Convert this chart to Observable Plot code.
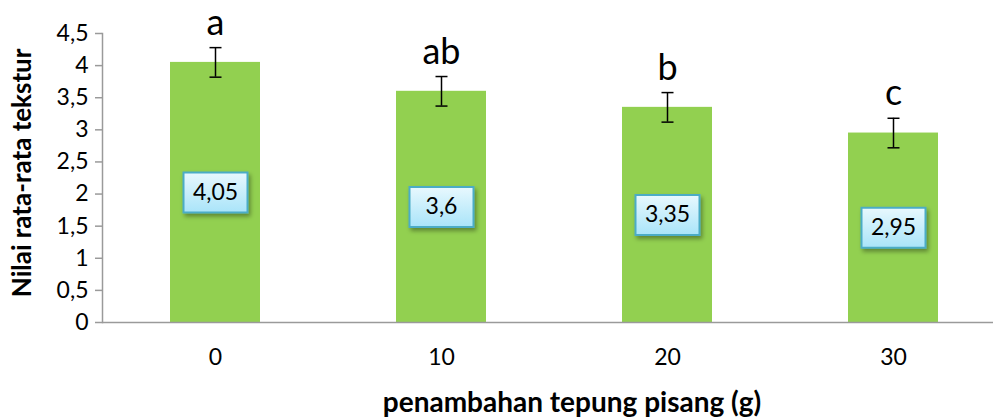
<!DOCTYPE html>
<html>
<head>
<meta charset="utf-8">
<script src="https://cdn.jsdelivr.net/npm/d3@7"></script>
<script src="https://cdn.jsdelivr.net/npm/@observablehq/plot@0.6"></script>
<style>
  html, body { margin: 0; padding: 0; background: #fff; }
  #chart svg { display: block; }
</style>
</head>
<body>
<div id="chart"></div>
<script>
const categories = ["0", "10", "20", "30"];
const values = [4.05, 3.6, 3.35, 2.95];
const errors = [0.23, 0.23, 0.23, 0.23];
const letters = ["a", "ab", "b", "c"];
const valueLabels = ["4,05", "3,6", "3,35", "2,95"];
const yTicks = [0, 0.5, 1, 1.5, 2, 2.5, 3, 3.5, 4, 4.5];
const yTickLabels = ["0", "0,5", "1", "1,5", "2", "2,5", "3", "3,5", "4", "4,5"];

const data = categories.map((c, i) => ({
  cat: c, value: values[i], err: errors[i], letter: letters[i], label: valueLabels[i]
}));

const font = "Lato, 'Open Sans', sans-serif";

const boxSymbol = { draw(ctx) { ctx.rect(-32, -20, 64, 40); } };
const capSymbol = { draw(ctx) { ctx.moveTo(-6, 0); ctx.lineTo(6, 0); } };

const chart = Plot.plot({
  width: 993,
  height: 419,
  marginLeft: 102,
  marginRight: 0,
  marginTop: 33,
  marginBottom: 97,
  style: { fontFamily: font, background: "#fff", overflow: "visible" },
  x: { domain: categories, range: [102, 1006], paddingInner: 0.6, paddingOuter: 0.3, label: null },
  y: { domain: [0, 4.5], label: null },
  marks: [
    Plot.barY(data, { x: "cat", y: "value", fill: "#92d050" }),
    Plot.ruleY([0], { stroke: "#9a9a9a", strokeWidth: 1.5 }),
    Plot.frame({ anchor: "left", stroke: "#9a9a9a", strokeWidth: 1.5 }),
    Plot.axisY({ ticks: yTicks, tickFormat: d => yTickLabels[yTicks.indexOf(d)], tickSize: 7, tickPadding: 7, fontSize: 23, stroke: "#9a9a9a", strokeWidth: 1.5, color: "#000", label: null }),
    Plot.axisX({ tickSize: 0, tickPadding: 26, fontSize: 23, label: null }),
    Plot.ruleX(data, { x: "cat", y1: d => d.value - d.err, y2: d => d.value + d.err, stroke: "#000", strokeWidth: 1.5 }),
    Plot.dot(data, { x: "cat", y: d => d.value + d.err, symbol: capSymbol, r: 6, stroke: "#000", strokeWidth: 1.5, fill: "none" }),
    Plot.dot(data, { x: "cat", y: d => d.value - d.err, symbol: capSymbol, r: 6, stroke: "#000", strokeWidth: 1.5, fill: "none" }),
    Plot.text(data, { x: "cat", y: d => d.value + d.err, text: "letter", lineAnchor: "bottom", dy: -13, fontSize: 36, fill: "#000" }),
    Plot.dot(data, { x: "cat", y: d => d.value / 2, symbol: boxSymbol, r: 10, fill: "#c6eefb", stroke: "#4bacc6", strokeWidth: 2, className: "valbox" }),
    Plot.text(data, { x: "cat", y: d => d.value / 2, text: "label", fontSize: 23, fill: "#000" }),
    Plot.text(["Nilai rata-rata tekstur"], { frameAnchor: "left", textAnchor: "middle", dx: -80, y: 2.33, rotate: -90, fontSize: 26, fontWeight: "bold", fill: "#000" }),
    Plot.text(["penambahan tepung pisang (g)"], { frameAnchor: "bottom", textAnchor: "middle", dy: 89, dx: 24, fontSize: 28, fontWeight: "bold", fill: "#000" })
  ]
});

const ns = "http://www.w3.org/2000/svg";
const defs = document.createElementNS(ns, "defs");
defs.innerHTML = `
  <linearGradient id="boxGrad" x1="0" y1="0" x2="0" y2="1">
    <stop offset="0" stop-color="#e8f8fe"/>
    <stop offset="1" stop-color="#a9e4f9"/>
  </linearGradient>
  <filter id="boxShadow" x="-30%" y="-30%" width="160%" height="170%">
    <feDropShadow dx="2" dy="3" stdDeviation="2" flood-color="#000" flood-opacity="0.35"/>
  </filter>`;
chart.insertBefore(defs, chart.firstChild);
chart.querySelectorAll(".valbox path").forEach(p => {
  p.setAttribute("fill", "url(#boxGrad)");
  p.setAttribute("filter", "url(#boxShadow)");
});
document.getElementById("chart").appendChild(chart);
</script>
</body>
</html>
